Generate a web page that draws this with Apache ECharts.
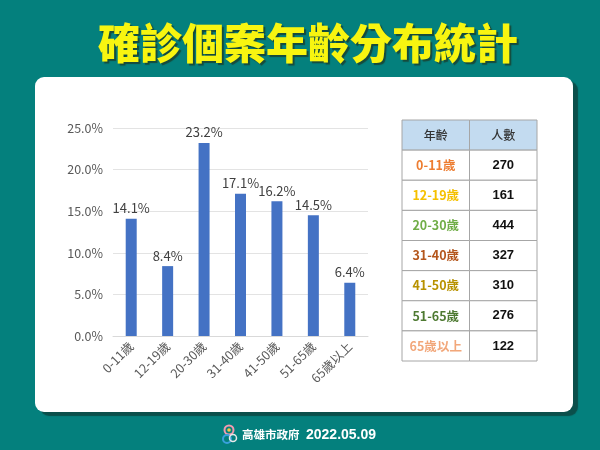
<!DOCTYPE html>
<html>
<head>
<meta charset="utf-8">
<script src="https://cdn.jsdelivr.net/npm/echarts@6/dist/echarts.min.js"></script>
<style>html,body{margin:0;padding:0;background:#04807d;}#c{width:600px;height:450px;}</style>
</head>
<body>
<div id="c"></div>
<script>
const categories = ['0-11歲','12-19歲','20-30歲','31-40歲','41-50歲','51-65歲','65歲以上'];
const percents = [14.1, 8.4, 23.2, 17.1, 16.2, 14.5, 6.4];
const counts = [270, 161, 444, 327, 310, 276, 122];
const labelColors = ['#ed7d31','#f5c000','#70ad47','#b4561c','#b89200','#4e7a32','#f2a77a'];
const tableHeader = ['年齡','人數'];
const titleText = '確診個案年齡分布統計';
const footerOrg = '高雄市政府';
const footerDate = '2022.05.09';

const font = '"Noto Sans CJK TC","Noto Sans",sans-serif';

// table cells: [col, row, text, color, fill]
const rows = ['h'].concat(categories);
const tableData = [];
tableHeader.forEach((t, c) => tableData.push([c, 0, t, '#333333', '#c3dbf0']));
categories.forEach((cat, i) => {
  tableData.push([0, i + 1, cat, labelColors[i], '#ffffff']);
  tableData.push([1, i + 1, String(counts[i]), '#111111', '#ffffff']);
});

const chart = echarts.init(document.getElementById('c'), null, {renderer: 'canvas'});
chart.setOption({
  backgroundColor: '#04807d',
  animation: false,
  graphic: [
    {type: 'rect', z: 0, shape: {x: 35, y: 77, width: 538, height: 335, r: 9},
     style: {fill: '#ffffff', shadowColor: '#0b4f4b', shadowOffsetX: 5, shadowOffsetY: 4, shadowBlur: 1}},
    {type: 'text', z: 1, x: 308, y: 43,
     style: {text: titleText, font: '900 42px ' + font, fill: '#f8f510', align: 'center', verticalAlign: 'middle',
             textShadowColor: '#164a3c', textShadowOffsetX: 2, textShadowOffsetY: 2, textShadowBlur: 1}},
    {type: 'group', z: 1, children: [
      {type: 'circle', shape: {cx: 229, cy: 430, r: 4.5}, style: {fill: 'none', stroke: '#f39ab0', lineWidth: 2}},
      {type: 'circle', shape: {cx: 229, cy: 430, r: 1.8}, style: {fill: '#f6c843'}},
      {type: 'arc', shape: {cx: 227, cy: 439, r: 4, startAngle: 0, endAngle: Math.PI * 2}, style: {fill: 'none', stroke: '#3aa0dc', lineWidth: 2}},
      {type: 'arc', shape: {cx: 233, cy: 438, r: 3.5, startAngle: 0, endAngle: Math.PI * 2}, style: {fill: 'none', stroke: '#e8e8e8', lineWidth: 1.5}}
    ]},
    {type: 'text', z: 1, x: 242, y: 435,
     style: {text: footerOrg, font: 'bold 11.5px ' + font, fill: '#ffffff', align: 'left', verticalAlign: 'middle'}},
    {type: 'text', z: 1, x: 306, y: 435,
     style: {text: footerDate, font: 'bold 14px "Liberation Sans", Arial, sans-serif', fill: '#ffffff', align: 'left', verticalAlign: 'middle'}}
  ],
  grid: [
    {left: 113, top: 128, width: 255, height: 208},
    {left: 402, top: 120, width: 135, height: 241}
  ],
  xAxis: [
    {type: 'category', gridIndex: 0, data: categories,
     axisLine: {show: true, lineStyle: {color: '#d9d9d9'}}, axisTick: {show: false},
     axisLabel: {rotate: 45, color: '#595959', fontSize: 12.5, fontFamily: font, margin: 8, interval: 0}},
    {type: 'category', gridIndex: 1, data: tableHeader, show: false}
  ],
  yAxis: [
    {type: 'value', gridIndex: 0, min: 0, max: 25, interval: 5,
     axisLine: {show: false}, axisTick: {show: false},
     splitLine: {lineStyle: {color: '#e3e3e3'}},
     axisLabel: {color: '#595959', fontSize: 12.5, fontFamily: font, margin: 10,
                 formatter: v => v.toFixed(1) + '%'}},
    {type: 'category', gridIndex: 1, data: rows, inverse: true, show: false}
  ],
  series: [
    {type: 'bar', xAxisIndex: 0, yAxisIndex: 0, data: percents, barWidth: 11,
     itemStyle: {color: '#4472c4'},
     label: {show: true, position: 'top', distance: 4, color: '#404040', fontSize: 13, fontFamily: font,
             formatter: p => p.value.toFixed(1) + '%'}},
    {type: 'custom', xAxisIndex: 1, yAxisIndex: 1, data: tableData,
     renderItem: function (params, api) {
       const c = api.coord([api.value(0), api.value(1)]);
       const s = api.size([1, 1]);
       const d = tableData[params.dataIndex];
       const f = d[1] === 0 ? '500 12px ' + font
               : (d[0] === 1 ? 'bold 13px "Liberation Sans", Arial, sans-serif' : '600 12.5px ' + font);
       return {
         type: 'group',
         children: [
           {type: 'rect', shape: {x: c[0] - s[0] / 2, y: c[1] - s[1] / 2, width: s[0], height: s[1]},
            style: {fill: d[4], stroke: '#a6a6a6', lineWidth: 1}},
           {type: 'text', x: c[0], y: c[1],
            style: {text: d[2], fill: d[3], align: 'center', verticalAlign: 'middle', font: f}}
         ]
       };
     }}
  ]
});
</script>
</body>
</html>
